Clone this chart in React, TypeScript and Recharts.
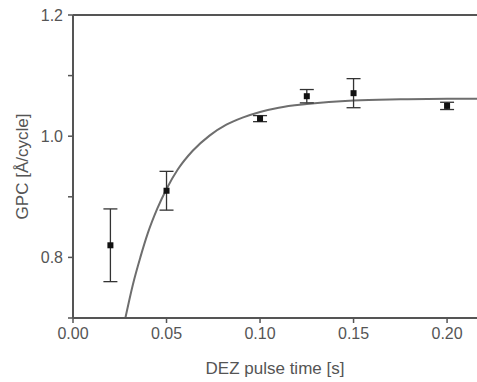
import React from "react"
import {
  ComposedChart,
  Line,
  Scatter,
  ErrorBar,
  XAxis,
  YAxis,
  ReferenceLine,
  Label,
} from "recharts"

// measured points with error bars
const pulseTimes = [0.02, 0.05, 0.1, 0.125, 0.15, 0.2]
const gpcValues = [0.82, 0.91, 1.029, 1.066, 1.071, 1.05]
const gpcErrors = [0.06, 0.032, 0.005, 0.011, 0.024, 0.006]

// fitted curve
const fitTimes = [0.028, 0.032, 0.036, 0.04, 0.045, 0.05, 0.056, 0.064, 0.073, 0.082, 0.091, 0.1, 0.11, 0.125, 0.15, 0.175, 0.2, 0.216]
const fitValues = [0.7, 0.755, 0.8, 0.84, 0.88, 0.913, 0.945, 0.976, 1.001, 1.019, 1.031, 1.04, 1.047, 1.053, 1.059, 1.061, 1.062, 1.062]

const xMajorTicks = [0, 0.05, 0.1, 0.15, 0.2]
const xMinorTicks = [0, 0.025, 0.05, 0.075, 0.1, 0.125, 0.15, 0.175, 0.2]
const yTicks = [0.7, 0.8, 0.9, 1.0, 1.1, 1.2]
const yLabelled = [0.8, 1.0, 1.2]

const points = pulseTimes.map((x, i) => ({ x, y: gpcValues[i], err: gpcErrors[i] }))
const fit = fitTimes.map((x, i) => ({ x, y: fitValues[i] }))

const axisColor = "#555"
const textColor = "#555"
const font = "Liberation Sans, Arial, sans-serif"

const Square = (props: any) => {
  const { cx, cy } = props
  return <rect x={cx - 3} y={cy - 3} width={6} height={6} fill="#111" />
}

export default function App() {
  return (
    <div style={{ position: "absolute", left: 0, top: 0, background: "#fff" }}>
      <ComposedChart
        width={477}
        height={382}
        margin={{ top: 15, right: 0, left: 0, bottom: 0 }}
        style={{ fontFamily: font }}
      >
        <XAxis
          xAxisId="minor"
          type="number"
          dataKey="x"
          domain={[0, 0.216]}
          ticks={xMinorTicks}
          height={0}
          axisLine={false}
          tickSize={3}
          tickLine={{ stroke: axisColor, strokeWidth: 1.5 }}
          tick={() => <g />}
          allowDataOverflow
        />
        <XAxis
          type="number"
          dataKey="x"
          domain={[0, 0.216]}
          ticks={xMajorTicks}
          height={64}
          tickSize={5}
          tickMargin={5}
          axisLine={{ stroke: axisColor, strokeWidth: 2 }}
          tickLine={{ stroke: axisColor, strokeWidth: 1.5 }}
          tick={{ fill: textColor, fontSize: 16, fontFamily: font }}
          tickFormatter={(v: number) => v.toFixed(2)}
          allowDataOverflow
        >
          <Label
            value="DEZ pulse time [s]"
            position="insideBottom"
            offset={8}
            style={{ fill: textColor, fontSize: 17, fontFamily: font }}
          />
        </XAxis>
        <XAxis
          xAxisId="top"
          orientation="top"
          type="number"
          dataKey="x"
          domain={[0, 0.216]}
          ticks={xMinorTicks}
          height={0}
          mirror
          tickSize={3}
          axisLine={{ stroke: axisColor, strokeWidth: 2 }}
          tickLine={{ stroke: axisColor, strokeWidth: 1.5 }}
          tick={() => <g />}
          allowDataOverflow
        />
        <YAxis
          type="number"
          domain={[0.7, 1.2]}
          ticks={yTicks}
          width={73}
          tickSize={5}
          tickMargin={5}
          axisLine={{ stroke: axisColor, strokeWidth: 2 }}
          tickLine={{ stroke: axisColor, strokeWidth: 1.5 }}
          tick={{ fill: textColor, fontSize: 16, fontFamily: font }}
          tickFormatter={(v: number) =>
            yLabelled.some((t) => Math.abs(t - v) < 1e-6) ? v.toFixed(1) : ""
          }
          allowDataOverflow
        >
          <Label
            value="GPC [Å/cycle]"
            angle={-90}
            position="insideLeft"
            offset={22}
            style={{ fill: textColor, fontSize: 17, fontFamily: font, textAnchor: "middle" }}
          />
        </YAxis>
        <ReferenceLine y={1.2} stroke={axisColor} strokeWidth={2} ifOverflow="visible" />
        <Line
          data={fit}
          dataKey="y"
          type="monotone"
          stroke="#6e6e6e"
          strokeWidth={2}
          dot={false}
          isAnimationActive={false}
        />
        <Scatter data={points} dataKey="y" shape={<Square />} isAnimationActive={false}>
          <ErrorBar dataKey="err" direction="y" width={7} stroke="#333" strokeWidth={1.3} />
        </Scatter>
      </ComposedChart>
    </div>
  )
}
